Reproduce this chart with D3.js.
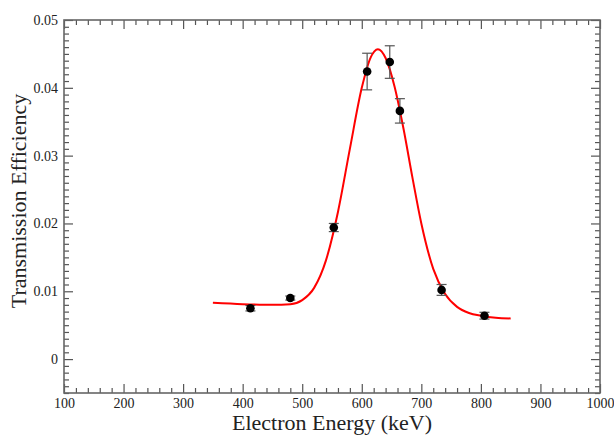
<!DOCTYPE html>
<html>
<head>
<meta charset="utf-8">
<script src="https://cdn.jsdelivr.net/npm/d3@7"></script>
<style>
  body { margin: 0; background: #fff; }
  text { font-family: "Liberation Serif", "Times New Roman", serif; fill: #222; }
</style>
</head>
<body>
<div class="chart"></div>
<script>
// measured points (keV, efficiency, error)
var energy     = [413, 480, 553, 609, 647, 664, 734, 806];
var efficiency = [0.0075, 0.0090, 0.0194, 0.0424, 0.0438, 0.0366, 0.0102, 0.0064];
var errors     = [0.0004, 0.0003, 0.0006, 0.0027, 0.0024, 0.0018, 0.0008, 0.0005];

// fitted curve
var fitEnergy = [350, 400, 450, 480, 500, 520, 540, 560, 580, 600, 615, 627, 640, 655, 670, 685, 700, 720, 740, 760, 780, 800, 825, 850];
var fitValue  = [0.0083, 0.0081, 0.0080, 0.0081, 0.0087, 0.0105, 0.0146, 0.0217, 0.0310, 0.0400, 0.0445, 0.0457, 0.0444, 0.0402, 0.0340, 0.0268, 0.0200, 0.0133, 0.0096, 0.0077, 0.0068, 0.0064, 0.0061, 0.0060];

var xTicks = [100, 200, 300, 400, 500, 600, 700, 800, 900, 1000];
var yTicks = [0, 0.01, 0.02, 0.03, 0.04, 0.05];

var W = 614, H = 435;
var padL = 64, padR = 600, padT = 20, padB = 393;

var svg = d3.select('.chart')
            .append('svg')
            .attr('width', W)
            .attr('height', H);

var x = d3.scaleLinear().domain([100, 1000]).range([padL, padR]);
var y = d3.scaleLinear().domain([-0.005, 0.05]).range([padB, padT]);

var xMinor = d3.range(100, 1001, 20).filter(function(v) { return v % 100 !== 0; });
var yMinor = d3.range(-5, 51, 1).map(function(v) { return v / 1000; })
               .filter(function(v) { return Math.round(v * 1000) % 10 !== 0; });

function styleAxis(g) {
  g.select('.domain').remove();
  g.selectAll('line').attr('stroke', '#555').attr('stroke-width', 1.2);
  g.selectAll('text').style('font-size', '14px').attr('fill', '#222');
}

// bottom
svg.append('g').attr('transform', 'translate(0,' + padB + ')')
   .call(d3.axisBottom(x).tickValues(xTicks).tickSize(-9).tickPadding(5).tickFormat(d3.format('d')))
   .call(styleAxis);
svg.append('g').attr('transform', 'translate(0,' + padB + ')')
   .call(d3.axisBottom(x).tickValues(xMinor).tickSize(-5).tickFormat(''))
   .call(styleAxis);
// top
svg.append('g').attr('transform', 'translate(0,' + padT + ')')
   .call(d3.axisTop(x).tickValues(xTicks).tickSize(-9).tickFormat(''))
   .call(styleAxis);
svg.append('g').attr('transform', 'translate(0,' + padT + ')')
   .call(d3.axisTop(x).tickValues(xMinor).tickSize(-5).tickFormat(''))
   .call(styleAxis);
// left
svg.append('g').attr('transform', 'translate(' + padL + ',0)')
   .call(d3.axisLeft(y).tickValues(yTicks).tickSize(-9).tickPadding(6).tickFormat(function(d) { return d === 0 ? '0' : d3.format('.2f')(d); }))
   .call(styleAxis);
svg.append('g').attr('transform', 'translate(' + padL + ',0)')
   .call(d3.axisLeft(y).tickValues(yMinor).tickSize(-5).tickFormat(''))
   .call(styleAxis);
// right
svg.append('g').attr('transform', 'translate(' + padR + ',0)')
   .call(d3.axisRight(y).tickValues(yTicks).tickSize(-9).tickFormat(''))
   .call(styleAxis);
svg.append('g').attr('transform', 'translate(' + padR + ',0)')
   .call(d3.axisRight(y).tickValues(yMinor).tickSize(-5).tickFormat(''))
   .call(styleAxis);

// frame
svg.append('rect')
   .attr('x', padL).attr('y', padT)
   .attr('width', padR - padL).attr('height', padB - padT)
   .attr('fill', 'none').attr('stroke', '#666').attr('stroke-width', 1.6);

// fit curve
var line = d3.line()
  .x(function(d, i) { return x(fitEnergy[i]); })
  .y(function(d) { return y(d); })
  .curve(d3.curveMonotoneX);

svg.append('path')
   .datum(fitValue)
   .attr('d', line)
   .attr('fill', 'none')
   .attr('stroke', '#ff0000')
   .attr('stroke-width', 2);

// error bars
var pts = energy.map(function(e, i) { return { e: e, v: efficiency[i], err: errors[i] }; });

var bars = svg.append('g').attr('stroke', '#555').attr('stroke-width', 1.2);
bars.selectAll('.stem').data(pts).enter().append('line')
    .attr('x1', function(d) { return x(d.e); }).attr('x2', function(d) { return x(d.e); })
    .attr('y1', function(d) { return y(d.v - d.err); }).attr('y2', function(d) { return y(d.v + d.err); });
bars.selectAll('.capTop').data(pts).enter().append('line')
    .attr('x1', function(d) { return x(d.e) - 5; }).attr('x2', function(d) { return x(d.e) + 5; })
    .attr('y1', function(d) { return y(d.v + d.err); }).attr('y2', function(d) { return y(d.v + d.err); });
bars.selectAll('.capBot').data(pts).enter().append('line')
    .attr('x1', function(d) { return x(d.e) - 5; }).attr('x2', function(d) { return x(d.e) + 5; })
    .attr('y1', function(d) { return y(d.v - d.err); }).attr('y2', function(d) { return y(d.v - d.err); });

// points
svg.selectAll('.pt').data(pts).enter().append('circle')
   .attr('cx', function(d) { return x(d.e); })
   .attr('cy', function(d) { return y(d.v); })
   .attr('r', 4.3)
   .attr('fill', '#000');

// titles
svg.append('text')
   .text('Electron Energy (keV)')
   .attr('x', (padL + padR) / 2)
   .attr('y', 430)
   .attr('text-anchor', 'middle')
   .style('font-size', '22px');

svg.append('text')
   .text('Transmission Efficiency')
   .attr('transform', 'translate(26,201) rotate(-90)')
   .attr('text-anchor', 'middle')
   .style('font-size', '22px');
</script>
</body>
</html>
